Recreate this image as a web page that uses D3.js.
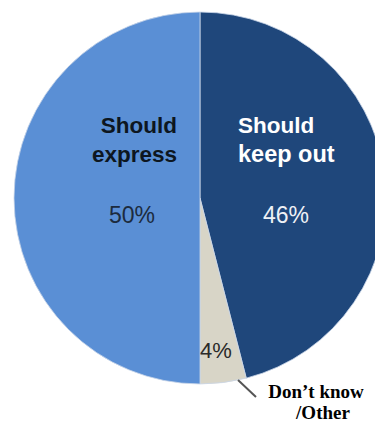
<!DOCTYPE html>
<html>
<head>
<meta charset="utf-8">
<script src="https://cdn.jsdelivr.net/npm/d3@7"></script>
<style>
  html, body { margin: 0; padding: 0; background: #fff; }
  svg { display: block; }
</style>
</head>
<body>
<svg id="chart" width="375" height="423"></svg>
<script>
// slices, clockwise from 12 o'clock
const categories = ["Should keep out", "Don\u2019t know/Other", "Should express"];
const values = [46, 4, 50];
const colors = ["#1f477b", "#d8d5c7", "#5a8fd5"];

function drawPie(holder) {
  let cx = 200, cy = 198, r = 186;
  let svg = d3.select(holder);

  let data = categories.map((c, i) => ({name: c, value: values[i], color: colors[i]}));
  let pie = d3.pie().sort(null).value(d => d.value);
  let arcs = pie(data);
  let arc = d3.arc().innerRadius(0).outerRadius(r);

  let g = svg.append("g").attr("transform", `translate(${cx},${cy})`);
  g.selectAll("path")
    .data(arcs)
    .join("path")
    .attr("d", arc)
    .attr("fill", d => d.data.color)
    .attr("stroke", "#c9d6e8")
    .attr("stroke-width", 0.8);

  let sans = "'Liberation Sans', Arial, sans-serif";
  let labels = svg.append("g").attr("font-family", sans);

  // Should express (left slice)
  labels.append("text")
    .attr("x", 177).attr("y", 133)
    .attr("text-anchor", "end")
    .attr("font-size", 22.5).attr("font-weight", "bold")
    .attr("fill", "#0d1620")
    .text("Should");
  labels.append("text")
    .attr("x", 177).attr("y", 162)
    .attr("text-anchor", "end")
    .attr("font-size", 22.5).attr("font-weight", "bold")
    .attr("fill", "#0d1620")
    .text("express");
  labels.append("text")
    .attr("x", 132).attr("y", 223)
    .attr("text-anchor", "middle")
    .attr("font-size", 23)
    .attr("fill", "#1c2b3e")
    .text(values[2] + "%");

  // Should keep out (right slice)
  labels.append("text")
    .attr("x", 238).attr("y", 133)
    .attr("font-size", 22.5).attr("font-weight", "bold")
    .attr("fill", "#ffffff")
    .text("Should");
  labels.append("text")
    .attr("x", 238).attr("y", 162)
    .attr("font-size", 23.5).attr("font-weight", "bold")
    .attr("fill", "#ffffff")
    .text("keep out");
  labels.append("text")
    .attr("x", 286).attr("y", 223)
    .attr("text-anchor", "middle")
    .attr("font-size", 23)
    .attr("fill", "#eef1f6")
    .text(values[0] + "%");

  // Don't know / Other
  labels.append("text")
    .attr("x", 216).attr("y", 358)
    .attr("text-anchor", "middle")
    .attr("font-size", 22)
    .attr("fill", "#2a2a2a")
    .text(values[1] + "%");

  svg.append("line")
    .attr("x1", 238).attr("y1", 380)
    .attr("x2", 256).attr("y2", 397)
    .attr("stroke", "#555")
    .attr("stroke-width", 2);

  let serif = "'Liberation Serif', 'Times New Roman', serif";
  svg.append("text")
    .attr("x", 316).attr("y", 398)
    .attr("text-anchor", "middle")
    .attr("font-family", serif)
    .attr("font-size", 19).attr("font-weight", "bold")
    .attr("fill", "#000")
    .text("Don\u2019t know");
  svg.append("text")
    .attr("x", 323).attr("y", 419)
    .attr("text-anchor", "middle")
    .attr("font-family", serif)
    .attr("font-size", 19).attr("font-weight", "bold")
    .attr("fill", "#000")
    .text("/Other");
}

drawPie("#chart");
</script>
</body>
</html>
